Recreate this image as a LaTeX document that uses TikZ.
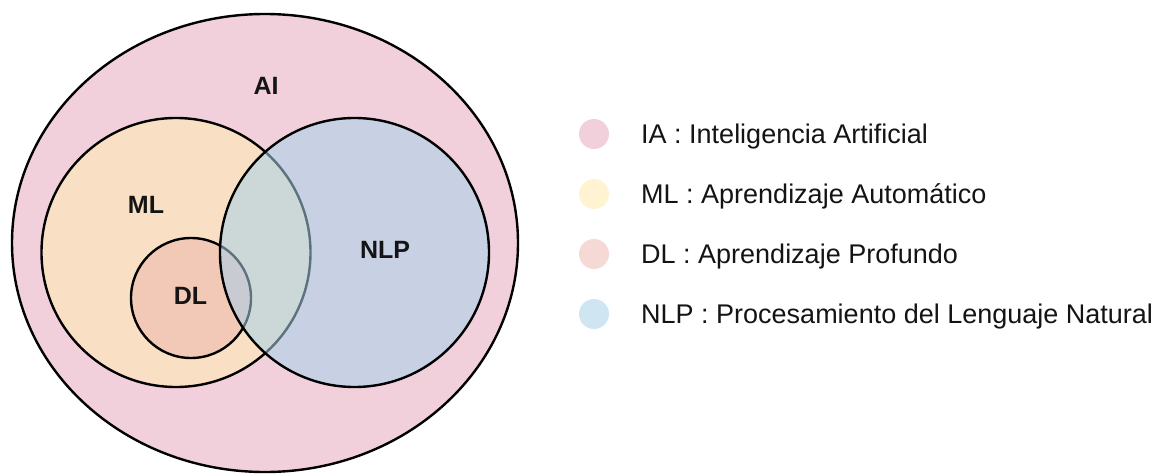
\documentclass[tikz,border=0pt]{standalone}
\usepackage{fontspec}
\setmainfont{Liberation Sans}
\usetikzlibrary{shapes.geometric}
\definecolor{aipink}{RGB}{241,208,220}
\definecolor{mlyellow}{RGB}{255,236,180}
\definecolor{dlsalmon}{RGB}{235,180,170}
\definecolor{nlpblue}{RGB}{168,208,233}
\definecolor{inkc}{RGB}{20,20,20}
\begin{document}
\begin{tikzpicture}[x=1pt,y=-1pt,
  lbl/.style={font=\fontsize{25}{30}\selectfont\bfseries, text=inkc, inner sep=0pt},
  legtext/.style={font=\fontsize{27}{32}\selectfont, anchor=base west, inner sep=0pt, text=inkc},
  ring/.style={draw=black, line width=2.4pt, inner sep=0pt},
  legdot/.style={circle, minimum size=30pt, inner sep=0pt}]
\useasboundingbox (0,0) rectangle (1158,474);
\fill[white] (0,0) rectangle (1158,474);
% sets
\node[ring, ellipse, minimum width=506pt, minimum height=458pt, fill=aipink] (ai) at (265,243) {};
\node[ring, circle, minimum size=269pt, fill=mlyellow, fill opacity=0.6] (ml) at (176,252.5) {};
\node[ring, circle, minimum size=120pt, fill=dlsalmon, fill opacity=0.5] (dl) at (191,298) {};
\node[ring, circle, minimum size=269pt, fill=nlpblue, fill opacity=0.55] (nlp) at (354.5,252.5) {};
% labels
\node[lbl] (lai) at (266,85.5) {AI};
\node[lbl] (lml) at (146,205) {ML};
\node[lbl] (ldl) at (190.5,295.5) {DL};
\node[lbl] (lnlp) at (385,250) {NLP};
% legend
\node[legdot, fill=aipink] (d1) at (594,134) {};
\node[legdot, fill=mlyellow, fill opacity=0.6] (d2) at (594,194) {};
\node[legdot, fill=dlsalmon, fill opacity=0.5] (d3) at (594,254) {};
\node[legdot, fill=nlpblue, fill opacity=0.55] (d4) at (594,314) {};
\node[legtext] (t1) at (641,143) {IA : Inteligencia Artificial};
\node[legtext] (t2) at (641,203) {ML : Aprendizaje Automático};
\node[legtext] (t3) at (641,263) {DL : Aprendizaje Profundo};
\node[legtext] (t4) at (641,323) {NLP : Procesamiento del Lenguaje Natural};
\end{tikzpicture}
\end{document}
